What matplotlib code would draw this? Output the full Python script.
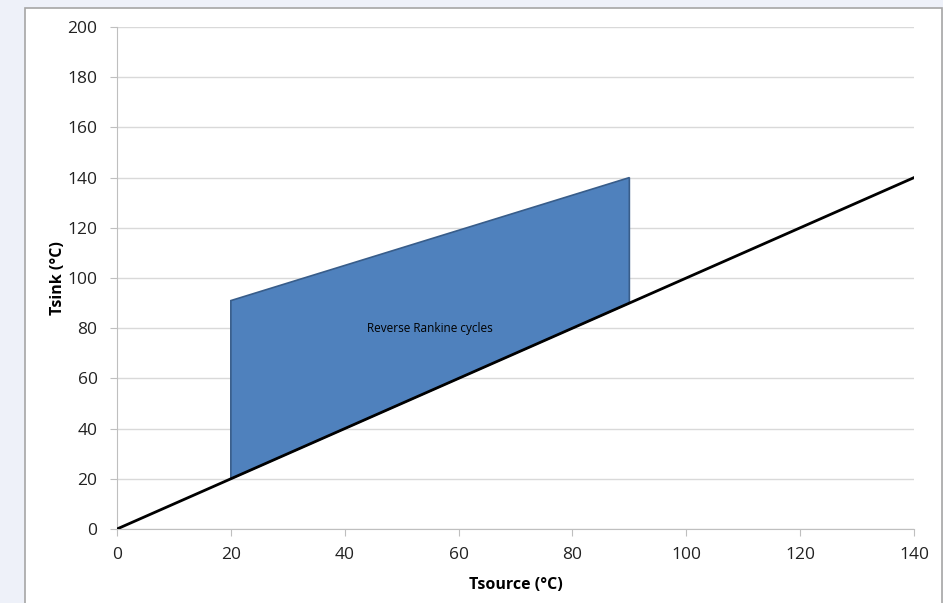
import matplotlib.pyplot as plt
from matplotlib.patches import Rectangle, Polygon

# data
line_x = [0, 140]
line_y = [0, 140]
region_x = [20, 20, 90, 90]
region_y = [20, 91, 140, 90]
region_label = "Reverse Rankine cycles"
x_ticks = [0, 20, 40, 60, 80, 100, 120, 140]
y_ticks = [0, 20, 40, 60, 80, 100, 120, 140, 160, 180, 200]

plt.rcParams['font.family'] = ['Open Sans', 'DejaVu Sans']

fig = plt.figure(figsize=(9.43, 6.03), dpi=100)
fig.patch.set_facecolor('#eef1f9')
# white chart area with grey frame
fig.add_artist(Rectangle((25/943, -0.01), 917/943, 1 - 8/603 + 0.01, transform=fig.transFigure,
                         facecolor='white', edgecolor='#a6a6a6', linewidth=1.2, zorder=-10))

ax = fig.add_axes([117/943, 74/603, 797/943, 502/603])
ax.set_facecolor('none')

ax.add_patch(Polygon(list(zip(region_x, region_y)), closed=True, facecolor='#4f81bd',
                     edgecolor='#385d8a', linewidth=1.2, zorder=3))
ax.plot(line_x, line_y, color='black', linewidth=2, zorder=4)
ax.text(55, 80, region_label, fontsize=8.5, ha='center', va='center', zorder=5)

ax.set_xlim(0, 140)
ax.set_ylim(0, 200)
ax.set_xticks(x_ticks)
ax.set_yticks(y_ticks)
ax.grid(axis='y', color='#d9d9d9', linewidth=1)
ax.set_axisbelow(True)
for s in ['top', 'right']:
    ax.spines[s].set_visible(False)
for s in ['left', 'bottom']:
    ax.spines[s].set_color('#bfbfbf')
ax.tick_params(axis='both', colors='#bfbfbf', labelcolor='#222222', labelsize=12.5, length=5)
ax.tick_params(axis='x', pad=8)
ax.tick_params(axis='y', pad=9)
ax.set_xlabel('Tsource (°C)', fontsize=11.5, fontweight='bold', labelpad=10)
ax.set_ylabel('Tsink (°C)', fontsize=11.5, fontweight='bold', labelpad=1)

fig.savefig('out.png', dpi=100, facecolor=fig.get_facecolor())
